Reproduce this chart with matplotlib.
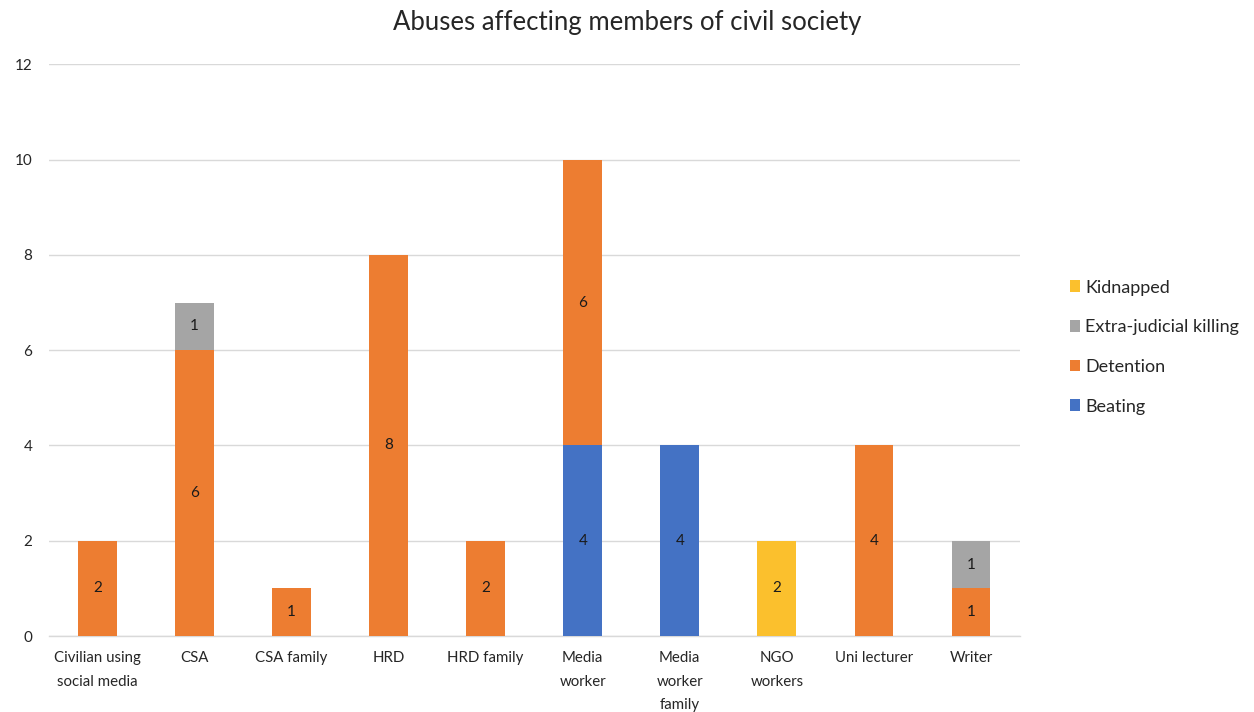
import matplotlib
matplotlib.use("Agg")
import matplotlib.pyplot as plt
import numpy as np

plt.rcParams['font.family'] = ['Lato', 'DejaVu Sans']

categories = ["Civilian using\nsocial media", "CSA", "CSA family", "HRD", "HRD family",
              "Media\nworker", "Media\nworker\nfamily", "NGO\nworkers", "Uni lecturer", "Writer"]
beating = [0, 0, 0, 0, 0, 4, 4, 0, 0, 0]
detention = [2, 6, 1, 8, 2, 6, 0, 0, 4, 1]
extra_judicial = [0, 1, 0, 0, 0, 0, 0, 0, 0, 1]
kidnapped = [0, 0, 0, 0, 0, 0, 0, 2, 0, 0]

series = [
    ("Beating", beating, "#4472C4"),
    ("Detention", detention, "#ED7D31"),
    ("Extra-judicial killing", extra_judicial, "#A5A5A5"),
    ("Kidnapped", kidnapped, "#FBC02D"),
]

fig = plt.figure(figsize=(12.54, 7.12), dpi=100)
ax = fig.add_axes([0.039, 0.1067, 0.774, 0.803])

x = np.arange(len(categories))
bottom = np.zeros(len(categories))
handles = []
for name, vals, color in series:
    vals = np.array(vals, dtype=float)
    bars = ax.bar(x, vals, 0.4, bottom=bottom, color=color, label=name, zorder=3)
    handles.append(bars)
    for xi, v, b in zip(x, vals, bottom):
        if v > 0:
            ax.text(xi, b + v / 2, f"{int(v)}", ha="center", va="center",
                    fontsize=11, color="#1a1a1a", zorder=4)
    bottom += vals

ax.set_xlim(-0.5, len(categories) - 0.5)
ax.set_ylim(0, 12)
ax.set_yticks(range(0, 13, 2))
ax.set_xticks(x)
ax.set_xticklabels(categories, fontsize=10.8, color="#262626", linespacing=1.85)
ax.tick_params(axis="y", length=0, labelsize=11, labelcolor="#262626", pad=12)
ax.tick_params(axis="x", length=0, pad=11)
ax.grid(axis="y", color="#D9D9D9", linewidth=1, zorder=0)
for s in ["top", "right", "left"]:
    ax.spines[s].set_visible(False)
ax.spines["bottom"].set_color("#D9D9D9")
ax.spines["bottom"].set_linewidth(1)

fig.text(0.5, 0.968, "Abuses affecting members of civil society", ha="center", va="center",
         fontsize=18.5, color="#262626")

fig.legend(handles[::-1], [s[0] for s in series][::-1], loc="center left",
           bbox_to_anchor=(0.84, 0.5126), frameon=False, fontsize=13,
           handlelength=0.6, handleheight=0.6, handletextpad=0.25, labelspacing=1.31,
           labelcolor="#262626")

fig.savefig("out.png", dpi=100)
